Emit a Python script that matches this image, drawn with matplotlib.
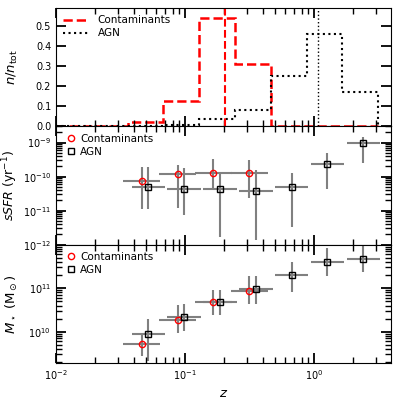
import matplotlib
matplotlib.use('Agg')
import matplotlib.pyplot as plt
import matplotlib.gridspec as gridspec
import numpy as np

plt.rcParams['font.size'] = 7.5
plt.rcParams['mathtext.fontset'] = 'dejavusans'

# redshift histogram (fraction per log bin)
BIN_EDGES = [0.01, 0.019, 0.036, 0.0675, 0.128, 0.244, 0.464, 0.878, 1.64, 3.13]
CONT_FRAC = [0.0, 0.0, 0.02, 0.125, 0.54, 0.31, 0.0, 0.0, 0.0]
AGN_FRAC = [0.0, 0.0, 0.0, 0.005, 0.035, 0.08, 0.25, 0.46, 0.17]
CONT_MEDIAN_Z = 0.204
AGN_MEDIAN_Z = 1.08

# binned medians: contaminants
CONT_Z = [0.0462, 0.0878, 0.1657, 0.315]
CONT_Z_LO = [0.0332, 0.0631, 0.119, 0.2265]
CONT_Z_HI = [0.0642, 0.122, 0.230, 0.438]
CONT_SSFR = [7.6e-11, 1.2e-10, 1.31e-10, 1.31e-10]
CONT_SSFR_LO = [1.1e-11, 1.2e-11, 4.6e-11, 2.3e-11]
CONT_SSFR_HI = [1.97e-10, 2.2e-10, 3.25e-10, 3.1e-10]
CONT_MASS = [5.1e9, 1.9e10, 4.9e10, 8.7e10]
CONT_MASS_LO = [2.7e9, 9.5e9, 2.4e10, 4.3e10]
CONT_MASS_HI = [9.5e9, 4.05e10, 9.0e10, 1.9e11]

# binned medians: AGN
AGN_Z = [0.0519, 0.0982, 0.1867, 0.355, 0.671, 1.268, 2.41]
AGN_Z_LO = [0.0386, 0.073, 0.139, 0.264, 0.499, 0.942, 1.79]
AGN_Z_HI = [0.0699, 0.132, 0.251, 0.478, 0.903, 1.707, 3.24]
AGN_SSFR = [5.1e-11, 4.3e-11, 4.3e-11, 3.9e-11, 5.0e-11, 2.3e-10, 1.0e-9]
AGN_SSFR_LO = [1.1e-11, 7.5e-12, 1.65e-12, 1.4e-12, 3.4e-12, 4.3e-11, 2.6e-10]
AGN_SSFR_HI = [1.97e-10, 1.8e-10, 1.31e-10, 1.57e-10, 1.26e-10, 4.9e-10, 1.47e-9]
AGN_MASS = [9.0e9, 2.17e10, 4.9e10, 9.5e10, 2.0e11, 4.1e11, 4.7e11]
AGN_MASS_LO = [2.1e9, 1.02e10, 2.4e10, 4.3e10, 8.2e10, 1.86e11, 2.4e11]
AGN_MASS_HI = [1.92e10, 4.3e10, 9.0e10, 1.9e11, 4.05e11, 8.3e11, 9.3e11]


def asym(center, lo, hi):
    center = np.asarray(center)
    return [center - np.asarray(lo), np.asarray(hi) - center]


def style_axis(ax):
    for axis in (ax.xaxis, ax.yaxis):
        axis.set_tick_params(which='both', direction='in', color='black')
        axis.set_tick_params(which='major', length=7, width=1.3)
        axis.set_tick_params(which='minor', length=4, width=1.0)
    ax.xaxis.set_ticks_position('both')
    ax.yaxis.set_ticks_position('both')
    ax.tick_params(labelsize=7)


def point_panel(ax, y_c, y_c_lo, y_c_hi, y_a, y_a_lo, y_a_hi):
    ax.errorbar(CONT_Z, y_c, xerr=asym(CONT_Z, CONT_Z_LO, CONT_Z_HI),
                yerr=asym(y_c, y_c_lo, y_c_hi), fmt='none', ecolor='gray',
                elinewidth=1.5, zorder=1)
    ax.errorbar(AGN_Z, y_a, xerr=asym(AGN_Z, AGN_Z_LO, AGN_Z_HI),
                yerr=asym(y_a, y_a_lo, y_a_hi), fmt='none', ecolor='gray',
                elinewidth=1.5, zorder=1)
    ax.plot(CONT_Z, y_c, 'o', mfc='none', mec='red', ms=4.5, mew=1,
            ls='none', label='Contaminants', zorder=3)
    ax.plot(AGN_Z, y_a, 's', mfc='none', mec='black', ms=4.5, mew=1,
            ls='none', label='AGN', zorder=3)
    ax.legend(loc='upper left', frameon=False, handletextpad=0.1,
              borderaxespad=0.3, labelspacing=0.3, fontsize=7.5,
              handlelength=1.5)


fig = plt.figure(figsize=(3.99, 3.99), dpi=100)
gs = gridspec.GridSpec(3, 1, hspace=0, left=0.1404, right=0.98, top=0.98, bottom=0.09)

ax1 = fig.add_subplot(gs[0])
ax1.stairs(CONT_FRAC, BIN_EDGES, color='red', ls='--', lw=1.8, label='Contaminants')
ax1.stairs(AGN_FRAC, BIN_EDGES, color='black', ls=':', lw=1.5, label='AGN')
ax1.axvline(CONT_MEDIAN_Z, color='red', ls='--', lw=1.5)
ax1.axvline(AGN_MEDIAN_Z, color='black', ls=':', lw=1.0)
ax1.set_xscale('log')
ax1.set_xlim(0.01, 3.95)
ax1.set_ylim(0, 0.59)
ax1.set_yticks([0.0, 0.1, 0.2, 0.3, 0.4, 0.5])
ax1.set_ylabel(r'$n/n_{\rm tot}$', fontsize=9.5, labelpad=2)
ax1.legend(loc='upper left', frameon=False, fontsize=7.5, handlelength=2.5,
           borderaxespad=0.3, labelspacing=0.3)

ax2 = fig.add_subplot(gs[1], sharex=ax1)
point_panel(ax2, CONT_SSFR, CONT_SSFR_LO, CONT_SSFR_HI, AGN_SSFR, AGN_SSFR_LO, AGN_SSFR_HI)
ax2.set_yscale('log')
ax2.set_ylim(1e-12, 3e-9)
ax2.set_ylabel(r'$sSFR$ (yr$^{-1}$)', fontsize=9, labelpad=2)

ax3 = fig.add_subplot(gs[2], sharex=ax1)
point_panel(ax3, CONT_MASS, CONT_MASS_LO, CONT_MASS_HI, AGN_MASS, AGN_MASS_LO, AGN_MASS_HI)
ax3.set_yscale('log')
ax3.set_ylim(1.9e9, 1.0e12)
ax3.set_yticks([1e10, 1e11])
ax3.set_ylabel(r'$M_\star$ (M$_\odot$)', fontsize=9.5, labelpad=2)
ax3.set_xlabel(r'$z$', fontsize=9.5)

for ax in (ax1, ax2, ax3):
    style_axis(ax)
ax1.tick_params(labelbottom=False)
ax2.tick_params(labelbottom=False)

fig.align_ylabels([ax1, ax2, ax3])
fig.savefig('out.png', dpi=100)
